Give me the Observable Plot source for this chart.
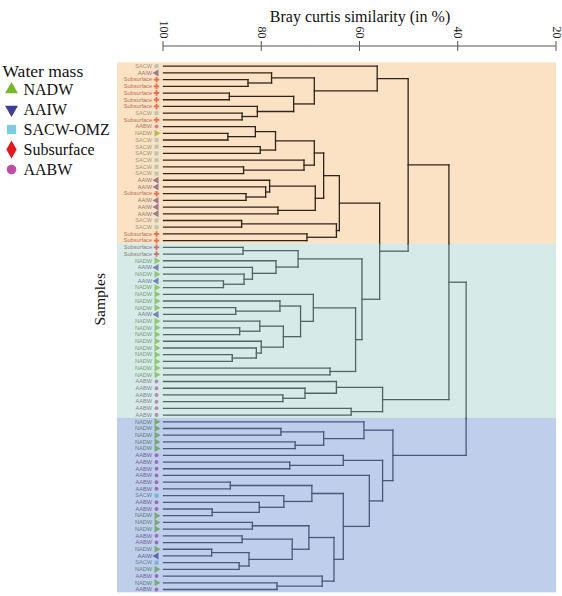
<!DOCTYPE html>
<html>
<head>
<meta charset="utf-8">
<script src="https://cdn.jsdelivr.net/npm/d3@7"></script>
<script src="https://cdn.jsdelivr.net/npm/@observablehq/plot@0.6"></script>
<style>
  body { margin: 0; background: #fff; }
  #wrap { position: relative; width: 562px; height: 596px; overflow: hidden; }
  #chart, #legend { position: absolute; left: 0; top: 0; }
  #legend { pointer-events: none; }
  .serif text, text.serif { font-family: "Liberation Serif", "Times New Roman", serif; }
</style>
</head>
<body>
<div id="wrap"><div id="chart"></div><div id="legend"></div></div>
<script>
// ---------- DATA ----------
const axisTitle = "Bray curtis similarity (in %)";
const yTitle = "Samples";
const legendTitle = "Water mass";
const axisTicks = [100, 80, 60, 40, 20];

const waterMasses = ["NADW", "AAIW", "SACW-OMZ", "Subsurface", "AABW"];
const legendColors = ["#78b72b", "#3d3f97", "#7dcbde", "#e3191d", "#bf4ea6"];

const sampleTypes = ["NADW", "AAIW", "SACW", "Subsurface", "AABW"];
const markerColors = ["#7cbf2e", "#4d44a0", "#84cede", "#e6281c", "#c14fa8"];

// leaf order, top to bottom, in the three shaded groups
const samplesUpper = ["SACW","AAIW","Subsurface","Subsurface","Subsurface","Subsurface","Subsurface","SACW","Subsurface",
  "AABW","NADW","SACW","SACW","SACW","SACW","SACW","SACW","AAIW","AAIW","Subsurface","AAIW","AAIW","AAIW",
  "SACW","SACW","Subsurface","Subsurface"];
const samplesMiddle = ["Subsurface","Subsurface","NADW","AAIW","NADW","AAIW","NADW","NADW","NADW","NADW","AAIW",
  "NADW","NADW","NADW","NADW","NADW","NADW","NADW","NADW","NADW",
  "AABW","AABW","AABW","AABW","AABW","AABW"];
const samplesLower = ["NADW","NADW","NADW","NADW","NADW","AABW","AABW","AABW","AABW","AABW","AABW","SACW","AABW",
  "AABW","NADW","NADW","NADW","AABW","AABW","NADW","AAIW","SACW","NADW","AABW","NADW","AABW"];

// clusters: [similarity %, left, right]; numbers are leaf indices
const clusterA = [56.5, 0, [69.3, [78.0, 1, [82.8, 2, 3]], [73.5, [86.6, 4, 5], [80.9, 6, [84.0, 7, 8]]]]];
const clusterB = [64.2,
  [67.4,
    [69.3, [77.2, [81.3, 9, [86.9, 10, 11]], [80.3, 12, 13]], [71.4, 14, [83.7, 15, 16]]],
    [69.1, [78.4, 17, [79.2, 18, [83.2, 19, 20]]], [76.7, 21, 22]]],
  [64.8, [84.1, 23, 24], [70.8, 25, 26]]];
const clusterC1 = [59.6,
  [72.6, [83.8, 27, 28], [77.1, 29, [81.9, 30, [83.6, 31, [87.8, 32, 33]]]]],
  [60.9,
    [69.5, 34, [72.1, [76.3, 35, [85.3, 36, 37]],
                      [75.6, [80.4, 38, [84.5, 39, 40]], [80.1, 41, [81.1, 42, [86.0, 43, 44]]]]]],
    [66.1, 45, 46]]];
const clusterC2 = [55.4, [64.8, 47, [71.2, 48, [75.7, 49, 50]]], [61.8, 51, 52]];
const clusterD = [53.3,
  [59.2, 53, [67.4, [76.1, 54, 55], [73.2, 56, 57]]],
  [55.4,
    [63.4, 58, [74.3, 59, 60]],
    [58.1, 61,
      [63.4,
        [69.8, [86.4, 62, 63], [75.5, 64, [80.5, 65, [90.1, 66, 67]]]],
        [65.3,
          [70.4, [81.9, 68, 69], [73.8, [84.0, 70, 71], [82.6, [90.2, 72, 73], [84.6, 74, 75]]]],
          [67.7, 76, [76.9, 77, 78]]]]]]];
const rootSims = [38.4, 41.9, 50.2, 56.0];

// group shading (overlay tints) and line colours
const groupOverlay = ["#f8bf7c", "#a4d2c9", "#7193d1"];
const groupLine = ["#2e251c", "#526466", "#4b5777"];

// ---------- BUILD ----------
const tree = [rootSims[0], [rootSims[1], [rootSims[2], clusterA, [rootSims[3], clusterB, clusterC1]], clusterC2], clusterD];
const samples = [...samplesUpper, ...samplesMiddle, ...samplesLower];
const groups = [];
{
  let s = 0;
  for (const arr of [samplesUpper, samplesMiddle, samplesLower]) {
    groups.push({first: s, last: s + arr.length - 1});
    s += arr.length;
  }
}
const groupOf = (y) => { const k = groups.findIndex(g => y <= g.last + 0.5); return k < 0 ? groups.length - 1 : k; };
const cuts = groups.slice(0, -1).map(g => g.last + 0.5);

const leafRows = samples.map((label, i) => ({i, label, x: 100, g: groupOf(i)}));
const segs = [];
function layout(node) {
  if (typeof node === "number") return {x: 100, y: node};
  const [sim, l, r] = node;
  const a = layout(l), b = layout(r);
  for (const c of [a, b]) segs.push({x1: c.x, x2: sim, y1: c.y, y2: c.y, g: groupOf(c.y)});
  const y0 = Math.min(a.y, b.y), y1 = Math.max(a.y, b.y);
  const pts = [y0, ...cuts.filter(c => c > y0 && c < y1), y1];
  for (let k = 0; k < pts.length - 1; k++)
    segs.push({x1: sim, x2: sim, y1: pts[k], y2: pts[k + 1], g: groupOf((pts[k] + pts[k + 1]) / 2)});
  return {x: sim, y: (a.y + b.y) / 2};
}
layout(tree);

function tri(angle) {
  return {draw(ctx, size) {
    const a = Math.sqrt(4 * size / Math.sqrt(3)), h = Math.sqrt(3) / 2 * a;
    const p = [[0, -2 * h / 3], [a / 2, h / 3], [-a / 2, h / 3]].map(([x, y]) =>
      [x * Math.cos(angle) - y * Math.sin(angle), x * Math.sin(angle) + y * Math.cos(angle)]);
    ctx.moveTo(p[0][0], p[0][1]); ctx.lineTo(p[1][0], p[1][1]); ctx.lineTo(p[2][0], p[2][1]); ctx.closePath();
  }};
}
const sampleSymbols = [tri(Math.PI / 2), tri(-Math.PI / 2), "square", "cross", "circle"];
const sampleR = [2.6, 2.6, 2.3, 2.3, 2.0];
const legendSymbols = [tri(0), tri(Math.PI), "square", "diamond", "circle"];
const legendR = [4.8, 4.8, 5.2, 5.4, 4.8];

const serif = "Liberation Serif, Times New Roman, serif";
const sans = "Liberation Sans, Arial, sans-serif";

const chart = Plot.plot({
  width: 562, height: 596,
  marginTop: 46, marginLeft: 163, marginRight: 6, marginBottom: 0,
  style: {background: "transparent", overflow: "visible"},
  x: {domain: [axisTicks[0], axisTicks[axisTicks.length - 1]]},
  y: {domain: [0, samples.length - 1], range: [65.7, 589], axis: null},
  color: {type: "identity"},
  marks: [
    // leaf labels and symbols
    Plot.text(leafRows, {x: "x", y: "i", text: "label", dx: -11.5, textAnchor: "end", fontSize: 5.6, fontFamily: sans,
      fill: d => d3.interpolateRgb(markerColors[sampleTypes.indexOf(d.label)], "#2a2a2a")(0.55)}),
    ...sampleTypes.map((t, k) => Plot.dot(leafRows.filter(d => d.label === t),
      {x: "x", y: "i", dx: -7, symbol: sampleSymbols[k], r: sampleR[k], fill: markerColors[k], stroke: "none"})),
    // shaded groups (translucent overlay)
    Plot.rect(groups, {y1: d => d.first - 0.5, y2: d => d.last + 0.5, fill: (d, i) => groupOverlay[i],
      fillOpacity: 0.45, insetLeft: -46}),
    // dendrogram
    Plot.link(segs, {x1: "x1", y1: "y1", x2: "x2", y2: "y2", stroke: d => groupLine[d.g], strokeWidth: 1.3, strokeLinecap: "square"}),
    // axis
    Plot.axisX({anchor: "top", ticks: axisTicks, tickSize: 0, tickPadding: 8, tickRotate: 90, fontSize: 12,
      fontFamily: serif, className: "serif", label: null, fill: "#222"}),
    (index, scales, values, dims) => {
      const g = d3.create("svg:g").attr("stroke", "#555").attr("stroke-width", 1).attr("fill", "none");
      const y0 = dims.marginTop;
      g.append("line").attr("x1", scales.x(axisTicks[0])).attr("x2", scales.x(axisTicks[axisTicks.length - 1]))
        .attr("y1", y0).attr("y2", y0);
      for (const t of axisTicks)
        g.append("line").attr("x1", scales.x(t)).attr("x2", scales.x(t)).attr("y1", y0 - 5).attr("y2", y0 + 5);
      return g.node();
    },
    Plot.text([axisTitle], {frameAnchor: "top", dy: -36, fontSize: 16, fontFamily: serif, className: "serif", fill: "#111"}),
    Plot.text([yTitle], {frameAnchor: "left", dx: -63, dy: 4, rotate: -90, fontSize: 15.5, fontFamily: serif, className: "serif", fill: "#111"})
  ]
});
document.getElementById("chart").append(chart);

const legend = Plot.plot({
  width: 130, height: 185, margin: 0,
  style: {background: "transparent", overflow: "visible"},
  x: {domain: [0, 1], range: [11, 23], axis: null},
  y: {type: "point", domain: waterMasses, range: [88, 169], padding: 0, axis: null},
  marks: [
    Plot.text([legendTitle], {frameAnchor: "top-left", dx: 2, dy: 64, fontSize: 17.5, textAnchor: "start", fill: "#111",
      fontFamily: serif, className: "serif"}),
    ...waterMasses.map((w, k) => Plot.dot([w], {x: () => 0, y: d => d, symbol: legendSymbols[k], r: legendR[k], fill: legendColors[k], stroke: "none"})),
    Plot.text(waterMasses, {x: () => 1, y: d => d, text: d => d, textAnchor: "start", fontSize: 16, fill: "#111",
      fontFamily: serif, className: "serif"})
  ]
});
document.getElementById("legend").append(legend);
</script>
</body>
</html>
